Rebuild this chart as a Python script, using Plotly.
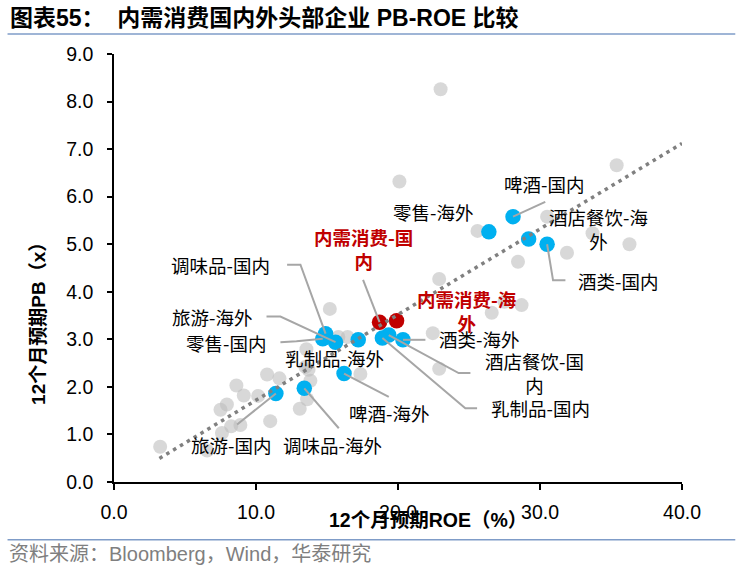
import plotly.graph_objects as go

# ---------------- data ----------------
gray_roe = [23.0, 20.1, 35.4, 25.6, 33.7, 36.3, 31.9, 28.45, 22.9, 30.5, 26.6, 27.5, 28.7,
            22.45, 22.9, 15.2, 15.8, 16.45, 13.55, 17.35, 10.78, 11.65, 13.48, 13.83, 8.62,
            9.14, 10.15, 7.95, 7.5, 13.6, 13.08, 11.0, 8.9, 8.25, 7.6, 6.56, 3.25, 13.7]
gray_pb = [8.26, 6.32, 6.66, 5.28, 5.23, 5.00, 4.82, 4.63, 4.27, 5.58, 3.56, 3.79, 3.72,
           3.13, 2.38, 3.64, 3.05, 3.05, 2.79, 2.27, 2.26, 2.18, 2.42, 2.13, 2.03,
           1.82, 1.81, 1.63, 1.52, 1.74, 1.54, 1.28, 1.20, 1.17, 1.03, 0.66, 0.74, 2.36]

blue_names = ["啤酒-国内", "零售-海外", "酒店餐饮-海外", "酒类-国内", "调味品-国内", "零售-国内",
              "旅游-海外", "乳制品-海外", "乳制品-国内", "酒店餐饮-国内", "酒类-海外",
              "啤酒-海外", "调味品-海外", "旅游-国内"]
blue_roe = [28.1, 26.4, 29.2, 30.5, 14.9, 14.7, 15.6, 17.2, 18.9, 19.35, 20.35, 16.2, 13.4, 11.4]
blue_pb = [5.58, 5.26, 5.11, 5.00, 3.12, 3.01, 2.94, 2.99, 3.03, 3.09, 2.99, 2.28, 1.97, 1.86]

red_names = ["内需消费-国内", "内需消费-海外"]
red_roe = [18.7, 19.9]
red_pb = [3.36, 3.39]

trend_slope = 0.18
trend_intercept = -0.08
trend_roe = [3.2, 40.0]

x_ticks = [0, 10, 20, 30, 40]
y_ticks = [0, 1, 2, 3, 4, 5, 6, 7, 8, 9]

# label placement (data units) and leader elbows
label_pos = {
    "啤酒-国内": (30.31, 6.27, "啤酒-国内"),
    "零售-海外": (22.49, 5.68, "零售-海外"),
    "酒店餐饮-海外": (34.14, 5.32, "酒店餐饮-海<br>外"),
    "酒类-国内": (35.52, 4.23, "酒类-国内"),
    "调味品-国内": (7.53, 4.57, "调味品-国内"),
    "旅游-海外": (6.93, 3.47, "旅游-海外"),
    "零售-国内": (7.88, 2.93, "零售-国内"),
    "乳制品-海外": (15.52, 2.61, "乳制品-海外"),
    "酒类-海外": (25.73, 3.01, "酒类-海外"),
    "酒店餐饮-国内": (29.6, 2.30, "酒店餐饮-国<br>内"),
    "乳制品-国内": (30.02, 1.56, "乳制品-国内"),
    "啤酒-海外": (19.39, 1.46, "啤酒-海外"),
    "调味品-海外": (15.36, 0.78, "调味品-海外"),
    "旅游-国内": (8.27, 0.78, "旅游-国内"),
    "内需消费-国内": (17.56, 4.90, "内需消费-国<br>内"),
    "内需消费-海外": (24.85, 3.60, "内需消费-海<br>外"),
}
leaders = {
    "啤酒-国内": [(30.37, 5.89)],
    "酒类-国内": [(31.79, 4.24), (30.92, 4.24)],
    "调味品-国内": [(12.19, 4.57), (13.13, 4.57)],
    "旅游-海外": [(10.74, 3.48), (11.72, 3.48)],
    "零售-国内": [(11.72, 2.94), (12.85, 2.96)],
    "内需消费-国内": [(17.54, 4.25)],
    "酒类-海外": [(21.93, 2.99)],
    "酒店餐饮-国内": [(25.10, 2.29), (24.27, 2.29)],
    "乳制品-国内": [(25.57, 1.55), (24.74, 1.55)],
    "啤酒-海外": [(19.35, 1.79)],
    "调味品-海外": [(15.83, 1.13)],
    "旅游-国内": [(8.67, 1.21)],
}

# ---------------- figure ----------------
W, H = 748, 570
L, R, T, B = 113.5, 66.3, 53.9, 87.7
pw, ph = W - L - R, H - T - B


def px(X):
    return (X - L) / pw


def py(Y):
    return (H - B - Y) / ph


CJK = "Noto Sans CJK SC"
LAT = "Liberation Sans, Arial, Noto Sans CJK SC"

fig = go.Figure()
fig.add_trace(go.Scatter(x=gray_roe, y=gray_pb, mode="markers",
                         marker=dict(size=14, color="rgba(190,190,190,0.6)", line=dict(width=0)),
                         hoverinfo="skip", showlegend=False))
fig.add_trace(go.Scatter(x=blue_roe, y=blue_pb, mode="markers", text=blue_names,
                         marker=dict(size=15.5, color="#00B0F0", line=dict(width=0)),
                         showlegend=False))
fig.add_trace(go.Scatter(x=red_roe, y=red_pb, mode="markers", text=red_names,
                         marker=dict(size=15.5, color="#C00000", line=dict(width=0)),
                         showlegend=False))

trend_pb = [trend_slope * v + trend_intercept for v in trend_roe]
fig.add_trace(go.Scatter(x=trend_roe, y=trend_pb, mode="lines",
                         line=dict(color="#808080", width=3.5, dash="3.5px,4.5px"),
                         hoverinfo="skip", showlegend=False))

all_pts = {n: (x, y) for n, x, y in zip(blue_names, blue_roe, blue_pb)}
all_pts.update({n: (x, y) for n, x, y in zip(red_names, red_roe, red_pb)})

for name, elbows in leaders.items():
    pt = all_pts[name]
    xs = [e[0] for e in elbows] + [pt[0]]
    ys = [e[1] for e in elbows] + [pt[1]]
    fig.add_trace(go.Scatter(x=xs, y=ys, mode="lines",
                             line=dict(color="#A6A6A6", width=2),
                             hoverinfo="skip", showlegend=False))

annotations = []
for name, (lx, ly, txt) in label_pos.items():
    is_red = name in red_names
    annotations.append(dict(
        x=lx, y=ly, xref="x", yref="y", text=("<b>%s</b>" % txt) if is_red else txt,
        showarrow=False, xanchor="center", yanchor="middle", align="center",
        font=dict(family=CJK, size=18.5, color="#C00000" if is_red else "#000000")))

annotations.append(dict(x=px(7), y=py(18), xref="paper", yref="paper", xanchor="left",
                        yanchor="middle", showarrow=False,
                        text="<b>图表55：  内需消费国内外头部企业 PB-ROE 比较</b>",
                        font=dict(family=LAT, size=23, color="#000000")))
annotations.append(dict(x=px(6), y=py(554), xref="paper", yref="paper", xanchor="left",
                        yanchor="middle", showarrow=False,
                        text="资料来源：Bloomberg，Wind，华泰研究",
                        font=dict(family=LAT, size=20, color="#7F7F7F")))
annotations.append(dict(x=px(428), y=py(520), xref="paper", yref="paper", xanchor="center",
                        yanchor="middle", showarrow=False,
                        text="<b>12个月预期ROE（%）</b>",
                        font=dict(family=LAT, size=19.5, color="#000000")))
annotations.append(dict(x=px(38), y=py(319.5), xref="paper", yref="paper", xanchor="center",
                        yanchor="middle", showarrow=False, textangle=-90,
                        text="<b>12个月预期PB（x）</b>",
                        font=dict(family=LAT, size=19, color="#000000")))

shapes = [
    dict(type="line", xref="paper", yref="paper", x0=px(7), x1=px(735), y0=py(34), y1=py(34),
         line=dict(color="#7F9CC8", width=1.5)),
    dict(type="line", xref="paper", yref="paper", x0=px(7), x1=px(735), y0=py(540), y1=py(540),
         line=dict(color="#7F9CC8", width=1.5)),
]

fig.update_layout(
    width=W, height=H,
    margin=dict(l=L, r=R, t=T, b=B, autoexpand=False),
    paper_bgcolor="white", plot_bgcolor="white",
    annotations=annotations, shapes=shapes,
    hovermode="closest",
)
fig.update_xaxes(range=[0, 40], tickvals=x_ticks, tickformat=".1f", showgrid=False,
                 zeroline=False, showline=True, linecolor="#000000", linewidth=1.5,
                 ticks="outside", ticklen=6, tickwidth=1.5, tickcolor="#000000",
                 ticklabelstandoff=6,
                 tickfont=dict(family=LAT, size=19.5, color="#000000"))
fig.update_yaxes(range=[0, 9], tickvals=y_ticks, tickformat=".1f", showgrid=False,
                 zeroline=False, showline=True, linecolor="#000000", linewidth=1.5,
                 ticks="outside", ticklen=5, tickwidth=1.5, tickcolor="#000000",
                 ticklabelstandoff=10,
                 tickfont=dict(family=LAT, size=19.5, color="#000000"))

fig.write_html("out.html", config={"displayModeBar": False},
               post_script="document.body.style.margin='0px';document.body.style.overflow='hidden';")
